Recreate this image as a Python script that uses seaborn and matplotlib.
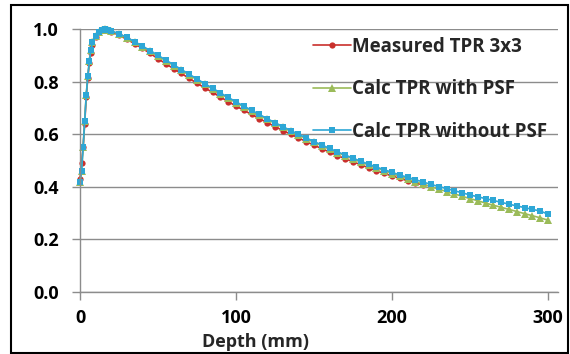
import numpy as np
import pandas as pd
import seaborn as sns
import matplotlib.pyplot as plt
from matplotlib.patches import Rectangle

# depths (mm)
depth_meas = [0, 1, 2, 3, 4, 5, 6, 7, 8, 10, 12, 14, 16, 18, 20,
              25, 30, 35, 40, 45, 50, 55, 60, 65, 70, 75, 80, 85, 90, 95, 100,
              105, 110, 115, 120, 125, 130, 135, 140, 145, 150, 155, 160, 165, 170,
              175, 180, 185, 190, 195, 200, 205, 210, 215, 220]
tpr_meas = [0.43, 0.49, 0.55, 0.64, 0.74, 0.815, 0.87, 0.91, 0.94, 0.97, 0.99, 0.998, 1.0, 0.997, 0.99,
            0.976, 0.961, 0.944, 0.926, 0.907, 0.887, 0.868, 0.849, 0.831, 0.812, 0.794, 0.776, 0.759, 0.741, 0.724, 0.707,
            0.691, 0.675, 0.659, 0.644, 0.629, 0.614, 0.600, 0.586, 0.572, 0.558, 0.545, 0.532, 0.519, 0.507,
            0.495, 0.484, 0.472, 0.461, 0.451, 0.441, 0.432, 0.423, 0.415, 0.407]

depth_calc = [0, 1, 2, 3, 4, 5, 6, 7, 8, 10, 12, 14, 16, 18, 20,
              25, 30, 35, 40, 45, 50, 55, 60, 65, 70, 75, 80, 85, 90, 95, 100,
              105, 110, 115, 120, 125, 130, 135, 140, 145, 150, 155, 160, 165, 170,
              175, 180, 185, 190, 195, 200, 205, 210, 215, 220, 225, 230, 235, 240,
              245, 250, 255, 260, 265, 270, 275, 280, 285, 290, 295, 300]
tpr_psf = [0.42, 0.46, 0.55, 0.65, 0.75, 0.82, 0.88, 0.92, 0.95, 0.975, 0.99, 0.997, 1.0, 0.998, 0.992,
           0.980, 0.965, 0.949, 0.932, 0.915, 0.897, 0.879, 0.861, 0.843, 0.825, 0.807, 0.789, 0.772, 0.754, 0.737, 0.720,
           0.704, 0.688, 0.672, 0.656, 0.641, 0.626, 0.611, 0.597, 0.583, 0.569, 0.556, 0.543, 0.530, 0.518,
           0.506, 0.494, 0.483, 0.472, 0.461, 0.450, 0.440, 0.430, 0.420, 0.410, 0.400, 0.391, 0.382, 0.373,
           0.364, 0.355, 0.347, 0.338, 0.330, 0.322, 0.314, 0.306, 0.298, 0.290, 0.282, 0.273]
tpr_nopsf = [0.42, 0.46, 0.55, 0.65, 0.75, 0.82, 0.88, 0.92, 0.95, 0.975, 0.99, 0.997, 1.0, 0.998, 0.993,
             0.982, 0.968, 0.952, 0.935, 0.918, 0.900, 0.882, 0.864, 0.846, 0.828, 0.810, 0.792, 0.775, 0.757, 0.740, 0.723,
             0.707, 0.691, 0.675, 0.659, 0.644, 0.629, 0.614, 0.600, 0.586, 0.572, 0.559, 0.546, 0.533, 0.521,
             0.509, 0.497, 0.486, 0.475, 0.465, 0.455, 0.445, 0.436, 0.427, 0.418, 0.409, 0.401, 0.393, 0.385,
             0.377, 0.369, 0.362, 0.355, 0.348, 0.341, 0.334, 0.327, 0.321, 0.314, 0.308, 0.296]

labels = ['Measured TPR 3x3', 'Calc TPR with PSF', 'Calc TPR without PSF']
colors = ['#C9302C', '#9BBB59', '#2EA7D6']

meas = pd.DataFrame({'Depth': depth_meas, 'TPR': tpr_meas})
psf = pd.DataFrame({'Depth': depth_calc, 'TPR': tpr_psf})
nopsf = pd.DataFrame({'Depth': depth_calc, 'TPR': tpr_nopsf})

sns.set_style('white')
plt.rcParams['font.family'] = ['Open Sans', 'DejaVu Sans']
plt.rcParams['font.weight'] = 'bold'

fig = plt.figure(figsize=(5.7, 3.54), dpi=100)
ax = fig.add_axes([80/570, 1-292/354, 478/570, 263/354])

sns.lineplot(data=meas, x='Depth', y='TPR', ax=ax, color=colors[0], marker='o',
             markersize=4.5, markeredgewidth=0, lw=1.2, label=labels[0], clip_on=False)
sns.lineplot(data=psf, x='Depth', y='TPR', ax=ax, color=colors[1], marker='^',
             markersize=5.5, markeredgewidth=0, lw=1.2, label=labels[1], clip_on=False)
sns.lineplot(data=nopsf, x='Depth', y='TPR', ax=ax, color=colors[2], marker='s',
             markersize=4, markeredgewidth=0, lw=1.2, label=labels[2], clip_on=False)

ax.set_xlim(0, 306.4)
ax.set_ylim(0, 1.0)
ax.set_yticks(np.arange(0, 1.01, 0.2))
ax.set_yticklabels(['0.0', '0.2', '0.4', '0.6', '0.8', '1.0'])
ax.set_xticks([0, 100, 200, 300])
ax.grid(axis='y', color='#8c8c8c', lw=1)
ax.grid(axis='x', visible=False)
for s in ['top', 'right']:
    ax.spines[s].set_visible(False)
for s in ['left', 'bottom']:
    ax.spines[s].set_color('#8c8c8c')
    ax.spines[s].set_linewidth(1)
ax.tick_params(axis='both', direction='out', length=6, width=1, color='#8c8c8c',
               labelsize=13, labelcolor='black')
ax.tick_params(axis='x', pad=6, bottom=True)
ax.tick_params(axis='y', pad=9, left=True)

ax.set_xlabel('Depth (mm)', fontsize=13, fontweight='bold')
ax.xaxis.set_label_coords(175/478, -0.155)
ax.set_ylabel('')

leg = ax.legend(loc='upper left', bbox_to_anchor=(313/570, 1-37/354),
                bbox_transform=fig.transFigure, frameon=False, fontsize=13.5,
                handlelength=2.0, handletextpad=0.1, labelspacing=1.2, borderpad=0,
                borderaxespad=0)
for t in leg.get_texts():
    t.set_fontweight('bold')

fig.patches.append(Rectangle((11/570, 1/354), 557/570, 348/354, transform=fig.transFigure,
                             fill=False, edgecolor='black', lw=1.5))

fig.savefig('out.png', dpi=100)
